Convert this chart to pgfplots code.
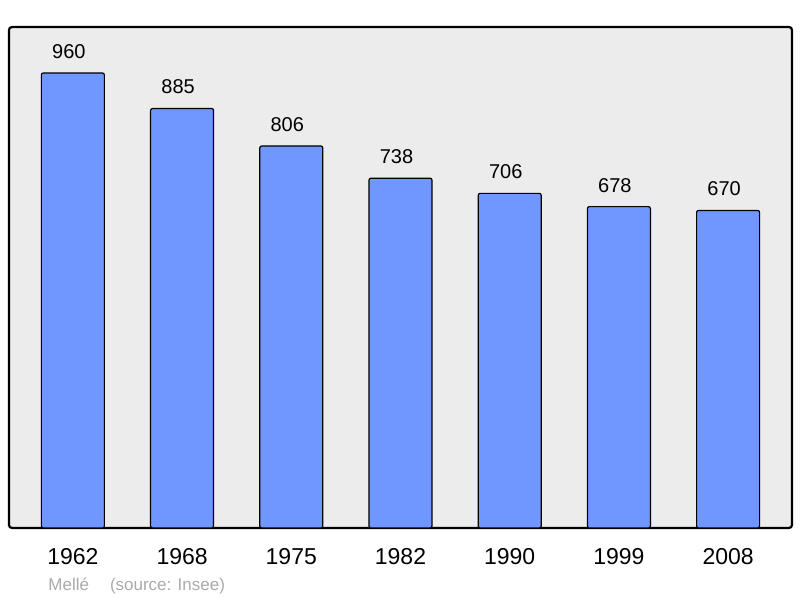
\documentclass[border=0pt]{standalone}
\usepackage{pgfplots}
\pgfplotsset{compat=1.18}
\usepackage{fontspec}
\setmainfont{Liberation Sans}
\definecolor{barblue}{HTML}{7096FF}
\definecolor{bggray}{HTML}{ECECEC}
\definecolor{srcgray}{HTML}{AAAAAA}
\begin{document}
\begin{tikzpicture}
\path (0,0) rectangle (400pt,299pt);
\begin{axis}[
  at={(4.5pt,35pt)}, anchor=south west,
  scale only axis, width=391.5pt, height=250.5pt,
  xmin=-0.585, xmax=6.585, ymin=0, ymax=1057,
  axis background/.style={fill=bggray},
  axis line style={line width=1.1pt, rounded corners=1.5pt},
  ytick=\empty,
  xtick={0,1,2,3,4,5,6},
  xticklabels={1962,1968,1975,1982,1990,1999,2008},
  major tick length=0pt,
  xticklabel style={font=\fontsize{11.5}{12}\selectfont, anchor=base, inner sep=0pt, yshift=-18.5pt},
  /pgf/number format/assume math mode=true,
  nodes near coords,
  every node near coord/.append style={font=\fontsize{10}{11}\selectfont, anchor=base, inner sep=0pt, yshift=7.3pt, xshift=-2pt, color=black},
  clip=false,
]
\addplot[ybar, bar width=31.5pt, fill=barblue, draw=black, line width=0.6pt, rounded corners=1pt]
  coordinates {(0,960) (1,885) (2,806) (3,738) (4,706) (5,678) (6,670)};
\end{axis}
\node[anchor=base west, inner sep=0pt, text=srcgray, font=\fontsize{8.5}{9}\selectfont] at (24pt,3.65pt) {Mellé\hspace{10.5pt}(source: Insee)};
\end{tikzpicture}
\end{document}
